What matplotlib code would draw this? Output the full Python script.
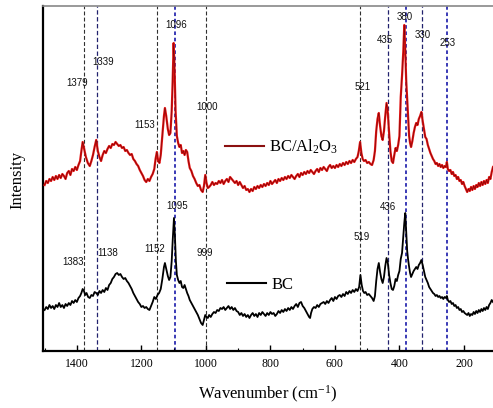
import matplotlib.pyplot as plt
import numpy as np
from matplotlib.lines import Line2D
from matplotlib.ticker import MultipleLocator

plt.rcParams['font.family'] = ['Liberation Serif', 'DejaVu Serif']
plt.rcParams['mathtext.default'] = 'regular'

# spectra: (wavenumber, intensity in arbitrary units)
bc_al2o3_pts = [
    (1500, 166), (1495, 170), (1490, 168), (1485, 172), (1480, 170), (1475, 174), (1470, 171),
    (1465, 175), (1460, 172), (1455, 176), (1450, 173), (1445, 177), (1440, 175), (1435, 172),
    (1430, 178), (1425, 180), (1420, 176), (1415, 182), (1410, 180), (1405, 184), (1400, 181),
    (1395, 186), (1390, 190), (1386, 200), (1382, 209), (1378, 203), (1372, 194), (1366, 188),
    (1360, 185), (1355, 190), (1350, 196), (1345, 204), (1340, 211), (1335, 200), (1330, 194),
    (1325, 190), (1320, 196), (1315, 200), (1310, 198), (1305, 202), (1300, 205), (1295, 203),
    (1290, 207), (1285, 206), (1280, 209), (1275, 207), (1270, 205), (1265, 206), (1260, 203),
    (1255, 204), (1250, 200), (1245, 201), (1240, 198), (1235, 196), (1230, 197), (1225, 192),
    (1220, 190), (1215, 187), (1210, 185), (1205, 181), (1200, 178), (1195, 175), (1190, 171),
    (1185, 169), (1180, 172), (1175, 170), (1170, 174), (1165, 177), (1160, 182), (1156, 192),
    (1152, 199), (1148, 190), (1144, 188), (1140, 196), (1135, 215), (1130, 235), (1127, 243),
    (1123, 235), (1118, 222), (1114, 216), (1110, 218), (1106, 240), (1103, 270), (1100, 308),
    (1097, 280), (1094, 240), (1090, 215), (1086, 208), (1082, 204), (1078, 206), (1074, 198),
    (1070, 200), (1066, 196), (1062, 201), (1058, 199), (1054, 190), (1050, 183), (1045, 180),
    (1040, 175), (1035, 172), (1030, 168), (1025, 165), (1020, 166), (1015, 161), (1010, 159),
    (1006, 165), (1002, 176), (998, 168), (994, 163), (990, 164), (985, 166), (980, 169),
    (975, 166), (970, 168), (965, 167), (960, 170), (955, 168), (950, 171), (945, 167),
    (940, 170), (935, 172), (930, 169), (925, 174), (920, 172), (915, 170), (910, 168),
    (905, 170), (900, 166), (895, 169), (890, 166), (885, 163), (880, 165), (875, 161),
    (870, 162), (865, 159), (860, 162), (855, 160), (850, 164), (845, 162), (840, 165),
    (835, 163), (830, 166), (825, 164), (820, 167), (815, 165), (810, 168), (805, 166),
    (800, 170), (795, 167), (790, 169), (785, 171), (780, 168), (775, 172), (770, 170),
    (765, 173), (760, 171), (755, 174), (750, 172), (745, 175), (740, 173), (735, 176),
    (730, 174), (725, 172), (720, 175), (715, 177), (710, 174), (705, 178), (700, 176),
    (695, 179), (690, 177), (685, 180), (680, 178), (675, 181), (670, 179), (665, 177),
    (660, 180), (655, 182), (650, 179), (645, 183), (640, 181), (635, 184), (630, 182),
    (625, 180), (620, 184), (615, 186), (610, 183), (605, 185), (600, 183), (595, 186),
    (590, 184), (585, 187), (580, 185), (575, 188), (570, 186), (565, 189), (560, 187),
    (555, 190), (550, 188), (545, 191), (540, 189), (535, 192), (530, 194), (526, 200),
    (522, 209), (518, 198), (514, 192), (510, 190), (505, 191), (500, 188), (495, 189),
    (490, 187), (485, 186), (480, 191), (476, 200), (472, 220), (468, 232), (464, 238),
    (460, 225), (456, 215), (452, 211), (448, 220), (444, 235), (440, 248), (436, 238),
    (432, 218), (428, 200), (424, 190), (420, 188), (416, 196), (412, 203), (408, 200),
    (404, 206), (400, 215), (396, 254), (392, 275), (388, 300), (385, 326), (382, 300),
    (379, 270), (376, 251), (373, 230), (370, 215), (367, 208), (364, 204), (360, 210),
    (356, 218), (352, 224), (348, 228), (344, 226), (340, 232), (336, 235), (332, 239),
    (328, 230), (324, 222), (320, 214), (316, 212), (312, 206), (308, 202), (304, 198),
    (300, 195), (296, 192), (292, 190), (288, 187), (284, 188), (280, 185), (276, 187),
    (272, 184), (268, 186), (264, 183), (260, 185), (256, 184), (253, 189), (250, 182),
    (246, 180), (242, 181), (238, 177), (234, 179), (230, 175), (226, 176), (222, 172),
    (218, 174), (214, 170), (210, 171), (206, 167), (202, 169), (198, 165), (194, 162),
    (190, 159), (186, 162), (182, 160), (178, 164), (174, 161), (170, 165), (166, 162),
    (162, 166), (158, 164), (154, 168), (150, 165), (146, 169), (142, 166), (138, 170),
    (134, 167), (130, 171), (126, 168), (122, 174), (118, 172), (114, 179), (110, 184),
]

bc_pts = [
    (1500, 41), (1495, 44), (1490, 42), (1485, 46), (1480, 43), (1475, 45), (1470, 42),
    (1465, 46), (1460, 44), (1455, 48), (1450, 44), (1445, 46), (1440, 43), (1435, 47),
    (1430, 45), (1425, 48), (1420, 46), (1415, 50), (1410, 48), (1405, 51), (1400, 49),
    (1395, 53), (1390, 55), (1386, 58), (1382, 62), (1378, 60), (1374, 56), (1370, 58),
    (1365, 54), (1360, 53), (1355, 56), (1350, 55), (1345, 59), (1340, 58), (1335, 56),
    (1330, 60), (1325, 58), (1320, 61), (1315, 59), (1310, 63), (1305, 61), (1300, 66),
    (1295, 68), (1290, 72), (1285, 74), (1280, 77), (1275, 78), (1270, 76), (1265, 77),
    (1260, 74), (1255, 72), (1250, 73), (1245, 70), (1240, 68), (1235, 65), (1230, 62),
    (1225, 58), (1220, 55), (1215, 52), (1210, 49), (1205, 47), (1200, 44), (1195, 45),
    (1190, 43), (1185, 44), (1180, 42), (1175, 41), (1170, 45), (1165, 49), (1160, 54),
    (1155, 52), (1150, 56), (1145, 58), (1140, 62), (1135, 72), (1130, 84), (1127, 88),
    (1123, 82), (1118, 75), (1114, 71), (1110, 74), (1106, 90), (1103, 110), (1099, 133),
    (1096, 115), (1093, 90), (1090, 76), (1086, 71), (1082, 68), (1078, 70), (1074, 64),
    (1070, 63), (1066, 66), (1062, 62), (1058, 58), (1054, 55), (1050, 51), (1045, 48),
    (1040, 45), (1035, 42), (1030, 39), (1025, 36), (1020, 32), (1015, 28), (1010, 26),
    (1006, 31), (1002, 36), (998, 34), (994, 33), (990, 36), (985, 34), (980, 37),
    (975, 39), (970, 38), (965, 41), (960, 40), (955, 43), (950, 42), (945, 44),
    (940, 41), (935, 43), (930, 45), (925, 42), (920, 44), (915, 41), (910, 43),
    (905, 40), (900, 39), (895, 36), (890, 38), (885, 35), (880, 37), (875, 34),
    (870, 36), (865, 33), (860, 36), (855, 38), (850, 35), (845, 37), (840, 34),
    (835, 38), (830, 36), (825, 39), (820, 37), (815, 35), (810, 38), (805, 36),
    (800, 39), (795, 37), (790, 38), (785, 35), (780, 37), (775, 40), (770, 38),
    (765, 41), (760, 39), (755, 42), (750, 40), (745, 43), (740, 41), (735, 44),
    (730, 42), (725, 45), (720, 47), (715, 44), (710, 48), (705, 49), (700, 45),
    (695, 43), (690, 40), (685, 37), (680, 34), (677, 33), (674, 38), (670, 42),
    (665, 44), (660, 43), (655, 46), (650, 44), (645, 47), (640, 48), (635, 49),
    (630, 47), (625, 50), (620, 48), (615, 51), (610, 53), (605, 50), (600, 54),
    (595, 52), (590, 55), (585, 56), (580, 54), (575, 57), (570, 55), (565, 59),
    (560, 57), (555, 60), (550, 58), (545, 61), (540, 59), (535, 62), (530, 60),
    (525, 64), (521, 76), (517, 66), (513, 60), (509, 58), (505, 59), (500, 56),
    (495, 57), (490, 55), (485, 53), (480, 50), (476, 55), (472, 70), (468, 82),
    (464, 88), (460, 79), (456, 72), (452, 68), (448, 74), (444, 85), (440, 93),
    (436, 88), (432, 76), (428, 68), (424, 62), (420, 61), (416, 65), (412, 72),
    (408, 70), (404, 76), (400, 80), (396, 92), (392, 98), (388, 115), (385, 128),
    (382, 138), (379, 120), (376, 100), (373, 91), (370, 84), (367, 78), (364, 74),
    (360, 77), (356, 80), (352, 82), (348, 84), (344, 82), (340, 86), (336, 88),
    (332, 91), (328, 86), (324, 80), (320, 74), (316, 71), (312, 68), (308, 64),
    (304, 62), (300, 60), (296, 58), (292, 57), (288, 55), (284, 56), (280, 54),
    (276, 55), (272, 53), (268, 54), (264, 52), (260, 54), (256, 53), (253, 55),
    (250, 51), (246, 49), (242, 50), (238, 47), (234, 48), (230, 45), (226, 46),
    (222, 43), (218, 44), (214, 41), (210, 42), (206, 39), (202, 40), (198, 38),
    (194, 37), (190, 36), (186, 38), (182, 35), (178, 37), (174, 36), (170, 39),
    (166, 37), (162, 40), (158, 38), (154, 41), (150, 39), (146, 42), (142, 40),
    (138, 43), (134, 41), (130, 44), (126, 42), (122, 46), (118, 48), (114, 51),
    (110, 49),
]

# reference lines
black_lines = [1379, 1153, 1000, 521]
navy_lines = [1339, 435, 330]
blue_lines = [1096, 380, 253]

# peak labels: text, x (wavenumber), y (intensity)
red_labels = ['1379', '1339', '1153', '1096', '1000', '521', '435', '380', '330', '253']
red_label_x = [1400, 1319, 1189, 1093, 996, 513, 445, 383, 327, 252]
red_label_y = [268, 289, 226, 326, 244, 264, 311, 334, 316, 308]
bc_labels = ['1383', '1138', '1152', '1095', '999', '519', '436']
bc_label_x = [1412, 1303, 1158, 1090, 1003, 516, 435]
bc_label_y = [89, 98, 102, 145, 98, 114, 144]

wn_red, int_red = np.array(bc_al2o3_pts).T
wn_bc, int_bc = np.array(bc_pts).T

fig = plt.figure(figsize=(4.93, 4.08), dpi=100)
ax = fig.add_axes([0.0872, 0.1397, 0.9128, 0.8456])

for x in black_lines:
    ax.axvline(x, color='#303030', lw=0.8, ls=(0, (3.5, 2)), zorder=1)
for x in navy_lines:
    ax.axvline(x, color='#22226e', lw=0.9, ls=(0, (3.5, 2)), zorder=1)
for x in blue_lines:
    ax.axvline(x, color='#2b2bb0', lw=1.3, ls=(0, (2, 1.5)), zorder=1)

ax.plot(wn_red, int_red, color='#e41414', lw=1.6, zorder=3)
ax.plot(wn_red, int_red, color='#400000', lw=0.35, alpha=0.8, zorder=4)
ax.plot(wn_bc, int_bc, color='black', lw=1.3, zorder=3)

for t, x, y in zip(red_labels, red_label_x, red_label_y):
    ax.text(x, y, t, ha='center', va='center', fontsize=7,
            family=['Liberation Sans', 'DejaVu Sans'], color='#111111')
for t, x, y in zip(bc_labels, bc_label_x, bc_label_y):
    ax.text(x, y, t, ha='center', va='center', fontsize=7,
            family=['Liberation Sans', 'DejaVu Sans'], color='#111111')

# in-plot labels as two small legends
leg1 = ax.legend([Line2D([], [], color='#8b1010', lw=1.5)], ['BC/Al$_2$O$_3$'],
                 loc='center left', bbox_to_anchor=(0.405, 0.591), frameon=False,
                 fontsize=12, handlelength=2.3, handletextpad=0.35,
                 borderpad=0, borderaxespad=0)
ax.add_artist(leg1)
ax.legend([Line2D([], [], color='black', lw=1.5)], ['BC'],
          loc='center left', bbox_to_anchor=(0.41, 0.191), frameon=False,
          fontsize=12, handlelength=2.3, handletextpad=0.35,
          borderpad=0, borderaxespad=0)

ax.set_xlim(1505, 110)
ax.set_ylim(0, 345)
ax.xaxis.set_major_locator(MultipleLocator(200))
ax.xaxis.set_minor_locator(MultipleLocator(100))
ax.tick_params(axis='x', which='major', direction='in', length=4, width=1, labelsize=8.5, pad=5)
ax.tick_params(axis='x', which='minor', direction='in', length=2.5, width=0.8)
ax.set_yticks([])

ax.spines['left'].set_linewidth(1.6)
ax.spines['bottom'].set_linewidth(1.6)
ax.spines['top'].set_color('#888888')
ax.spines['top'].set_linewidth(1.2)
ax.spines['right'].set_visible(False)

fig.text(268 / 493, 1 - 394 / 408, 'Wavenumber (cm$^{-1}$)', ha='center', va='center', fontsize=12)
fig.text(17 / 493, 1 - 180 / 408, 'Intensity', ha='center', va='center', fontsize=12, rotation=90)

fig.savefig('out.png', dpi=100)
